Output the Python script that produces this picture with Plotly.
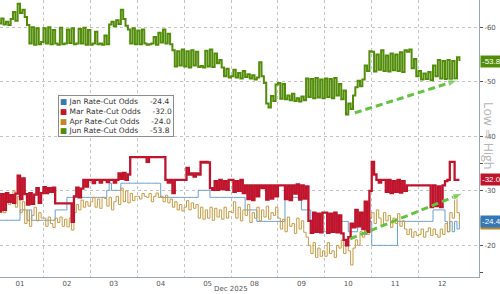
import plotly.graph_objects as go

# ---------------- data ----------------
day_labels = ["01", "02", "03", "04", "05", "08", "09", "10", "11", "12"]
day_fraction = [1, 1, 1, 1, 1, 1, 1, 1, 1, 0.92]

jun_odds = [
    [61.3, 60.7, 61.6, 60.5, 61.0, 60.4, 61.5, 62.8, 61.2, 64.3, 62.6, 63.2, 61.9, 60.4, 57.0, 60.0, 56.8, 59.8, 56.9, 57.3],
    [59.8, 57.0, 60.0, 56.9, 59.5, 57.0, 56.8, 59.9, 56.9, 57.0, 59.6, 57.1, 59.8, 56.9, 57.0, 59.7, 57.0, 59.9, 56.8, 59.5],
    [56.8, 57.0, 59.2, 56.9, 57.0, 56.8, 58.5, 56.9, 60.5, 61.0, 60.2, 61.3, 60.6, 63.2, 61.5, 60.3, 59.6, 57.0, 59.8, 56.9],
    [59.4, 56.9, 59.6, 57.0, 56.8, 56.9, 57.0, 58.2, 56.8, 59.0, 57.2, 59.6, 57.0, 58.8, 56.9, 55.8, 52.8, 55.6, 53.0, 55.9],
    [52.8, 55.6, 52.6, 55.8, 53.0, 55.5, 52.7, 52.9, 52.6, 55.7, 52.8, 55.9, 52.7, 55.2, 53.4, 54.0, 52.6, 51.0, 52.4, 50.8],
    [51.0, 52.2, 50.8, 51.6, 50.6, 52.0, 50.9, 51.4, 50.6, 51.2, 50.4, 50.8, 53.6, 51.0, 49.8, 46.0, 45.3, 47.4, 46.5, 49.5],
    [49.8, 46.9, 49.6, 46.8, 47.5, 46.6, 47.8, 46.5, 47.0, 46.4, 47.3, 46.6, 50.6, 47.2, 50.5, 47.0, 50.7, 47.1, 50.4, 47.0],
    [50.6, 47.2, 50.5, 47.0, 50.7, 47.5, 49.6, 46.8, 48.4, 44.0, 46.0, 45.0, 47.5, 49.0, 50.2, 49.2, 50.4, 53.0, 52.0, 55.6],
    [55.5, 51.9, 55.0, 52.2, 55.8, 52.0, 54.8, 51.9, 55.2, 52.1, 55.0, 52.0, 55.4, 51.8, 55.8, 55.5, 55.9, 52.5, 54.2, 51.0],
    [52.0, 50.4, 51.5, 50.5, 51.8, 50.3, 53.0, 51.0, 54.0, 50.6, 53.8, 50.5, 54.0, 50.4, 53.8, 50.6, 54.5, 53.8],
]

mar_odds = [
    [29.6, 26.2, 29.4, 26.5, 29.6, 28.0, 29.2, 27.8, 29.5, 32.8, 28.5, 32.3, 29.4, 27.5, 29.6, 27.6, 29.3, 30.5, 27.8, 29.6],
    [30.7, 29.6, 30.5, 29.8, 30.6, 27.7, 27.7, 27.7, 27.7, 27.7, 27.7, 27.7, 24.3, 29.0, 30.6, 28.8, 30.4, 32.0, 30.8, 32.0],
    [32.0, 31.4, 32.0, 32.0, 31.5, 32.0, 32.0, 31.6, 32.0, 32.0, 31.5, 32.0, 33.2, 32.2, 33.3, 32.0, 33.0, 36.2, 36.2, 36.2],
    [36.2, 36.2, 36.2, 36.2, 35.3, 36.2, 36.2, 36.2, 36.2, 36.2, 36.2, 36.2, 32.0, 31.5, 32.0, 29.6, 32.0, 32.0, 32.0, 32.0],
    [32.0, 34.2, 33.0, 33.2, 32.6, 33.2, 33.0, 35.3, 35.2, 35.3, 35.2, 30.5, 30.2, 31.8, 30.2, 32.0, 30.3, 31.8, 30.2, 32.0],
    [32.0, 29.8, 31.8, 30.0, 32.0, 29.6, 31.0, 28.5, 31.0, 28.3, 31.0, 29.0, 31.0, 30.5, 31.0, 28.4, 31.0, 28.6, 31.0, 29.0],
    [31.0, 31.0, 31.0, 28.5, 31.0, 28.3, 31.0, 29.5, 31.2, 28.4, 31.0, 28.6, 30.8, 24.5, 22.3, 26.0, 22.5, 25.8, 22.4, 26.0],
    [26.0, 22.3, 25.8, 22.5, 26.0, 22.4, 25.5, 22.2, 21.0, 20.0, 21.5, 24.0, 23.3, 26.5, 23.5, 26.0, 23.0, 28.0, 22.5, 30.0],
    [35.3, 33.0, 32.0, 31.5, 32.0, 32.0, 29.8, 32.0, 29.6, 31.8, 29.8, 32.0, 29.7, 31.8, 30.0, 31.0, 31.0, 31.0, 31.0, 31.0],
    [31.0, 31.0, 31.0, 31.0, 31.0, 27.0, 31.0, 27.2, 30.8, 27.0, 31.0, 31.8, 32.0, 35.3, 35.3, 32.0, 32.0, 32.0],
]

apr_odds = [
    [28.5, 27.0, 28.8, 26.0, 29.5, 27.5, 28.0, 30.0, 27.0, 29.0, 26.0, 28.0, 24.0, 26.5, 23.5, 25.5, 27.0, 24.5, 26.0, 25.0],
    [25.0, 23.5, 25.2, 24.0, 23.3, 25.0, 24.2, 25.2, 23.5, 24.8, 23.4, 25.0, 22.8, 26.0, 27.5, 26.5, 28.3, 27.0, 28.0, 27.2],
    [28.0, 28.8, 27.0, 28.5, 26.8, 28.8, 28.6, 27.2, 28.8, 26.5, 28.0, 29.0, 27.5, 30.5, 28.0, 30.0, 27.8, 29.5, 28.2, 29.0],
    [29.0, 28.5, 29.5, 29.0, 28.8, 29.5, 28.0, 29.0, 29.6, 28.8, 29.0, 28.0, 29.2, 27.8, 28.5, 27.0, 28.0, 26.5, 27.5, 26.3],
    [27.0, 28.2, 26.5, 27.8, 26.8, 27.5, 25.0, 27.0, 24.8, 26.5, 25.0, 27.0, 24.6, 26.8, 25.2, 26.5, 24.8, 27.0, 25.0, 26.2],
    [26.0, 28.0, 25.0, 27.0, 24.5, 26.5, 25.5, 27.5, 24.2, 26.0, 25.0, 27.0, 24.5, 26.5, 25.2, 27.2, 24.8, 26.0, 25.5, 27.0],
    [25.0, 23.0, 24.8, 22.5, 25.2, 23.5, 24.0, 22.2, 25.0, 23.0, 24.5, 22.4, 21.5, 20.0, 18.5, 20.5, 17.8, 19.5, 18.0, 19.0],
    [18.0, 20.5, 18.5, 19.0, 17.8, 20.0, 19.5, 21.0, 18.5, 20.5, 19.0, 16.4, 19.5, 21.0, 20.0, 22.5, 21.5, 24.0, 22.0, 25.0],
    [26.0, 24.0, 26.5, 25.0, 23.5, 26.0, 24.5, 25.5, 23.3, 25.0, 24.0, 25.8, 23.5, 24.5, 23.0, 22.0, 23.0, 21.5, 22.5, 21.8],
    [22.0, 23.0, 21.5, 22.5, 23.2, 21.8, 23.0, 22.0, 21.5, 23.0, 22.0, 24.0, 22.5, 26.0, 25.0, 29.0, 26.0, 24.0],
]

jan_odds = [
    [29.6, 24.6, 24.6, 24.6, 24.6, 24.6, 24.6, 24.6, 24.6, 24.6, 26.5, 26.5, 26.5, 24.6, 26.5, 24.6, 24.6, 24.6, 24.6, 24.6],
    [24.6, 24.6, 24.6, 24.6, 24.6, 26.5, 26.5, 26.5, 26.5, 26.5, 28.8, 28.8, 28.8, 28.8, 28.8, 28.8, 28.8, 28.8, 28.8, 28.8],
    [28.8, 28.8, 28.8, 28.8, 28.8, 28.8, 28.8, 30.1, 31.4, 30.1, 30.1, 30.1, 30.1, 31.4, 31.4, 31.4, 31.4, 31.4, 31.4, 31.4],
    [31.4, 31.4, 31.4, 31.4, 31.4, 31.4, 31.4, 31.4, 31.4, 31.4, 28.8, 28.8, 28.8, 28.8, 28.8, 28.8, 28.8, 28.8, 28.8, 28.8],
    [28.8, 28.8, 28.8, 28.8, 28.8, 28.8, 30.1, 30.1, 30.1, 30.1, 30.1, 28.8, 28.8, 28.8, 28.8, 28.8, 28.8, 28.8, 28.8, 28.8],
    [28.8, 28.8, 28.8, 28.8, 28.8, 28.8, 26.5, 26.5, 26.5, 26.5, 26.5, 24.4, 24.4, 24.4, 24.4, 24.4, 24.4, 24.4, 24.4, 24.4],
    [24.4, 24.4, 24.4, 28.8, 28.8, 28.8, 28.8, 28.8, 28.8, 28.8, 26.5, 26.5, 26.5, 26.5, 24.4, 24.4, 24.4, 22.5, 22.5, 22.5],
    [22.5, 22.5, 22.5, 22.5, 24.4, 24.4, 24.4, 24.4, 24.4, 24.4, 22.5, 22.5, 22.5, 22.5, 24.4, 24.4, 24.4, 22.0, 24.4, 24.4],
    [20.0, 20.0, 20.0, 20.0, 20.0, 20.0, 20.0, 20.0, 20.0, 20.0, 20.0, 24.4, 24.4, 24.4, 24.4, 24.4, 24.4, 24.4, 24.4, 24.4],
    [24.4, 24.4, 24.4, 24.4, 24.4, 24.4, 26.5, 26.5, 26.5, 26.5, 26.5, 24.4, 22.5, 24.4, 22.5, 24.4, 23.0, 24.4],
]

last_values = {"Jan": -24.4, "Mar": -32.0, "Apr": -24.0, "Jun": -53.8}

# trend arrows drawn on the chart (x in day index units, y in odds)
arrow_top_x = [7.14, 9.34]
arrow_top_y = [-44.3, -50.3]
arrow_bot_x = [7.04, 9.45]
arrow_bot_y = [-21.2, -29.6]

# ---------------- styling ----------------
C_JAN = "#6b9fcf"
C_JAN_BOX = "#3478b5"
C_MAR = "#c0142c"
C_APR = "#c79c45"
C_APR_BOX = "#c0872a"
C_JUN = "#528d0a"
C_ARROW = "#63c23f"
GRID = "#c4c4c4"
AXIS = "#9aa6b0"


def flatten(series):
    xs, ys = [], []
    for k, vals in enumerate(series):
        n = len(vals)
        f = day_fraction[k]
        for j, v in enumerate(vals):
            xs.append(k - 0.5 + f * j / n)
            ys.append(-v)
    return xs, ys


fig = go.Figure()

for series, color, width in [
    (jan_odds, C_JAN, 1.0),
    (apr_odds, C_APR, 1.0),
    (mar_odds, C_MAR, 2.3),
    (jun_odds, C_JUN, 2.0),
]:
    xs, ys = flatten(series)
    fig.add_trace(go.Scatter(x=xs, y=ys, mode="lines", line=dict(color=color, width=width, shape="hv"),
                             showlegend=False, hoverinfo="skip"))

for ax_x, ax_y in [(arrow_top_x, arrow_top_y), (arrow_bot_x, arrow_bot_y)]:
    fig.add_trace(go.Scatter(
        x=ax_x, y=ax_y, mode="lines+markers",
        line=dict(color=C_ARROW, width=3, dash="7px,4px"),
        marker=dict(symbol=["circle", "arrow"], size=[0, 11], color=C_ARROW, angleref="previous"),
        showlegend=False, hoverinfo="skip"))

# right-side last value tags
for label, color in [("Apr", C_APR_BOX), ("Jan", C_JAN_BOX), ("Mar", C_MAR), ("Jun", C_JUN)]:
    v = last_values[label]
    fig.add_annotation(x=1, xref="paper", y=v, yref="y", xanchor="left", xshift=1,
                       text=f"{v:.1f}", showarrow=False, bgcolor=color, borderpad=1,
                       font=dict(family="Liberation Sans, Arial", size=8, color="white"))

# legend box
legend_lines = [
    (C_JAN_BOX, "Jan Rate-Cut Odds", last_values["Jan"]),
    (C_MAR, "Mar Rate-Cut Odds", last_values["Mar"]),
    (C_APR_BOX, "Apr Rate-Cut Odds", last_values["Apr"]),
    (C_JUN, "Jun Rate-Cut Odds", last_values["Jun"]),
]
legend_text = "<br>".join(
    f"<span style='color:{c}'>■</span> {name}&nbsp;&nbsp;&nbsp;&nbsp;&nbsp;{v:.1f}" for c, name, v in legend_lines)
fig.add_annotation(x=58 / 479, y=1 - 95 / 277, xref="paper", yref="paper", xanchor="left", yanchor="top",
                   text=legend_text, showarrow=False, align="left", bgcolor="white",
                   bordercolor="#8c8c8c", borderwidth=1, borderpad=1,
                   font=dict(family="DejaVu Sans", size=7.5, color="#333333"))

# Low => High label
fig.add_annotation(x=1, xref="paper", y=1 - 136 / 277, yref="paper", xanchor="center", xshift=10,
                   text="Low ⇒ High", textangle=90, showarrow=False,
                   font=dict(family="Open Sans, DejaVu Sans", size=12.5, color="#b5b5b5"))

# month label
fig.add_annotation(x=231 / 479, y=-17 / 277, xref="paper", yref="paper", yanchor="bottom", borderpad=0,
                   text="Dec 2025", showarrow=False,
                   font=dict(family="DejaVu Sans", size=7, color="#555555"))

fig.update_layout(
    width=500, height=294,
    margin=dict(l=0, r=21, t=0, b=17),
    paper_bgcolor="white", plot_bgcolor="white",
    xaxis=dict(
        range=[-0.4264, 9.787],
        tickvals=list(range(len(day_labels))), ticktext=day_labels,
        ticks="", showgrid=False, zeroline=False,
        showline=True, linecolor=AXIS, linewidth=1,
        tickfont=dict(family="DejaVu Sans", size=7, color="#555555"),
        minor=dict(tickvals=[k + 0.5 for k in range(len(day_labels) - 1)], showgrid=True,
                   gridcolor=GRID, griddash="dot", gridwidth=1, ticks=""),
    ),
    yaxis=dict(
        side="right", range=[-14.2, -65.0],
        tickvals=[-60, -50, -40, -30, -20], ticktext=["-60", "-50", "-40", "-30", "-20"],
        showgrid=True, gridcolor=GRID, griddash="dot", gridwidth=1,
        zeroline=False, showline=True, linecolor=AXIS, linewidth=1,
        ticks="outside", ticklen=3, tickcolor="#555555",
        tickfont=dict(family="DejaVu Sans", size=7, color="#555555"),
        minor=dict(tickvals=[-35, -15], ticks="outside", ticklen=3, tickcolor="#555555", showgrid=False),
    ),
    showlegend=False,
)

fig.write_html("out.html")
